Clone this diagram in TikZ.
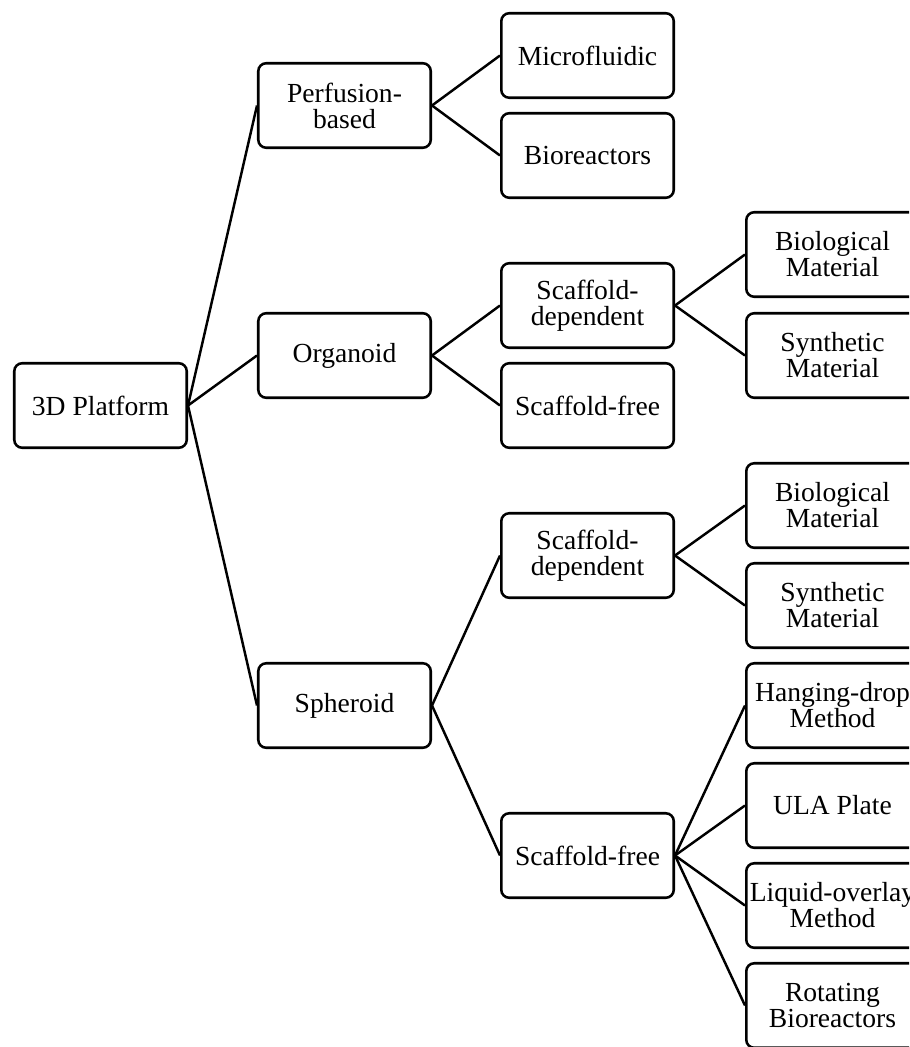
\documentclass[tikz,border=0pt]{standalone}
\usepackage{fontspec}
\setmainfont{Liberation Serif}
\begin{document}
\begin{tikzpicture}[x=0.02cm,y=-0.02cm,
  box/.style={draw, line width=1.45pt, rounded corners=4.5pt, minimum width=3.45cm, minimum height=1.69cm, align=center, inner sep=0pt, font=\fontsize{15.7pt}{14.8pt}\selectfont},
  link/.style={line width=1.4pt}]
\useasboundingbox (0,0) rectangle (909,1047);
\clip (0,0) rectangle (909,1047);
\node[box] (p3d) at (100.5,405.5) {3D Platform};
\node[box] (perf) at (344.5,105.5) {Perfusion-\\based};
\node[box] (micro) at (587.5,55.5) {Microfluidic};
\node[box] (biore) at (587.5,155.5) {Bioreactors};
\node[box] (org) at (344.5,355.5) {Organoid};
\node[box] (osd) at (587.5,305.5) {Scaffold-\\dependent};
\node[box] (osf) at (587.5,405.5) {Scaffold-free};
\node[box] (obio) at (832.5,254.5) {Biological\\Material};
\node[box] (osyn) at (832.5,355.5) {Synthetic\\Material};
\node[box] (sph) at (344.5,705.5) {Spheroid};
\node[box] (ssd) at (587.5,555.5) {Scaffold-\\dependent};
\node[box] (ssf) at (587.5,855.5) {Scaffold-free};
\node[box] (sbio) at (832.5,505.5) {Biological\\Material};
\node[box] (ssyn) at (832.5,605.5) {Synthetic\\Material};
\node[box] (hang) at (832.5,705.5) {Hanging-drop\\Method};
\node[box] (ula) at (832.5,805.5) {ULA Plate};
\node[box] (liq) at (832.5,905.5) {Liquid-overlay\\Method};
\node[box] (rot) at (832.5,1005.5) {Rotating\\Bioreactors};
\draw[link] (p3d.east) -- (perf.west);
\draw[link] (p3d.east) -- (org.west);
\draw[link] (p3d.east) -- (sph.west);
\draw[link] (perf.east) -- (micro.west);
\draw[link] (perf.east) -- (biore.west);
\draw[link] (org.east) -- (osd.west);
\draw[link] (org.east) -- (osf.west);
\draw[link] (osd.east) -- (obio.west);
\draw[link] (osd.east) -- (osyn.west);
\draw[link] (sph.east) -- (ssd.west);
\draw[link] (sph.east) -- (ssf.west);
\draw[link] (ssd.east) -- (sbio.west);
\draw[link] (ssd.east) -- (ssyn.west);
\draw[link] (ssf.east) -- (hang.west);
\draw[link] (ssf.east) -- (ula.west);
\draw[link] (ssf.east) -- (liq.west);
\draw[link] (ssf.east) -- (rot.west);
\end{tikzpicture}
\end{document}
